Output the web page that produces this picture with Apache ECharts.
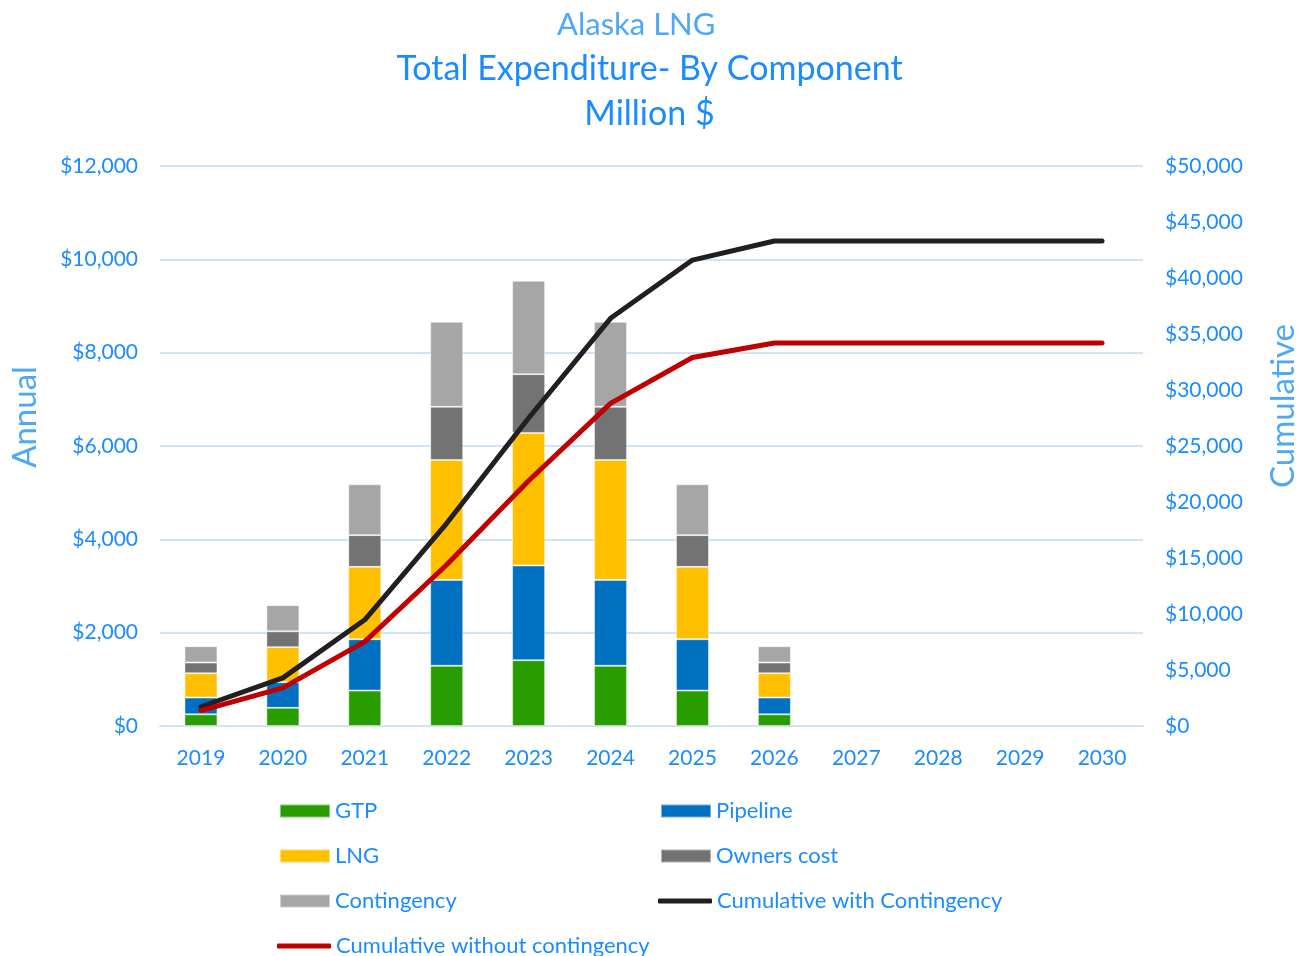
<!DOCTYPE html>
<html>
<head>
<meta charset="utf-8">
<style>
    html, body { margin: 0; padding: 0; background: #fff; }
    #chart { width: 1299px; height: 956px; }
</style>
<script src="https://cdn.jsdelivr.net/npm/echarts@6/dist/echarts.min.js"></script>
</head>
<body>
<div id="chart"></div>
<script>
// 年份
var years = ['2019', '2020', '2021', '2022', '2023', '2024', '2025', '2026', '2027', '2028', '2029', '2030'];
// 各部分年度支出 (百万美元), 2027 年以后没有柱子
var gtp         = [250, 390, 760, 1290, 1410, 1290, 760, 250, null, null, null, null];
var pipeline    = [360, 550, 1100, 1840, 2030, 1840, 1100, 360, null, null, null, null];
var lng         = [520, 750, 1550, 2570, 2840, 2570, 1550, 520, null, null, null, null];
var owners      = [230, 340, 680, 1140, 1260, 1140, 680, 230, null, null, null, null];
var contingency = [350, 560, 1090, 1820, 2000, 1820, 1090, 350, null, null, null, null];
// 累计
var cumWith     = [1720, 4300, 9480, 18100, 27500, 36400, 41600, 43300, 43300, 43300, 43300, 43300];
var cumWithout  = [1380, 3400, 7530, 14400, 21900, 28800, 32900, 34200, 34200, 34200, 34200, 34200];
// 坐标轴刻度
var leftTicks  = [0, 2000, 4000, 6000, 8000, 10000, 12000];
var rightTicks = [0, 5000, 10000, 15000, 20000, 25000, 30000, 35000, 40000, 45000, 50000];

var blue = '#1a8cff';
var lightBlue = '#4ea8f5';
var gridColor = '#cfe4f7';
var font = 'Lato, "Open Sans", sans-serif';

function money(v) {
    return '$' + v.toLocaleString('en-US');
}

function barSeries(name, data, color) {
    return {
        name: name,
        type: 'bar',
        stack: 'annual',
        barWidth: 33,
        data: data,
        itemStyle: { color: color, borderColor: 'rgba(255,255,255,0.45)', borderWidth: 1 }
    };
}

function lineSeries(name, data, color) {
    return {
        name: name,
        type: 'line',
        yAxisIndex: 1,
        data: data,
        symbol: 'none',
        lineStyle: { color: color, width: 5, cap: 'round' },
        itemStyle: { color: color }
    };
}

// 图例 (每项单独定位)
var legendItems = [
    { name: 'GTP', left: 279, top: 800, line: false },
    { name: 'Pipeline', left: 660, top: 800, line: false },
    { name: 'LNG', left: 279, top: 845, line: false },
    { name: 'Owners cost', left: 660, top: 845, line: false },
    { name: 'Contingency', left: 279, top: 890, line: false },
    { name: 'Cumulative with Contingency', left: 658, top: 890, line: true },
    { name: 'Cumulative without contingency', left: 277, top: 935, line: true }
];
var legends = legendItems.map(function (it) {
    return {
        data: [it.name],
        left: it.left,
        top: it.top,
        padding: 0,
        selectedMode: false,
        icon: it.line ? 'roundRect' : 'rect',
        itemWidth: it.line ? 54 : 50,
        itemHeight: it.line ? 5 : 13,
        itemGap: 0,
        textStyle: { color: blue, fontSize: 22, fontFamily: font, padding: [0, 0, 0, 0] }
    };
});

var option = {
    animation: false,
    backgroundColor: '#fff',
    title: [
        { text: 'Alaska LNG', left: 552, top: 4, textStyle: { color: lightBlue, fontSize: 31, fontWeight: 'normal', fontFamily: font } },
        { text: 'Total Expenditure- By Component', left: 'center', top: 47, textStyle: { color: blue, fontSize: 34, fontWeight: 'normal', fontFamily: font } },
        { text: 'Million $', left: 'center', top: 92, textStyle: { color: blue, fontSize: 34, fontWeight: 'normal', fontFamily: font } }
    ],
    legend: legends,
    grid: { left: 160, right: 156, top: 166, bottom: 230 },
    xAxis: {
        type: 'category',
        data: years,
        axisLine: { show: true, lineStyle: { color: gridColor, width: 2 } },
        axisTick: { show: false },
        axisLabel: { color: blue, fontSize: 21, fontFamily: font, margin: 22 }
    },
    yAxis: [
        {
            type: 'value',
            min: 0, max: leftTicks[leftTicks.length - 1], interval: 2000,
            axisLine: { show: false },
            axisTick: { show: false },
            splitLine: { lineStyle: { color: gridColor, width: 2 } },
            axisLabel: { color: blue, fontSize: 21, fontFamily: font, margin: 22, formatter: money }
        },
        {
            type: 'value',
            min: 0, max: rightTicks[rightTicks.length - 1], interval: 5000,
            axisLine: { show: false },
            axisTick: { show: false },
            splitLine: { show: false },
            axisLabel: { color: blue, fontSize: 21, fontFamily: font, margin: 22, formatter: money }
        }
    ],
    graphic: [
        { type: 'text', x: 25, y: 417, rotation: Math.PI / 2,
          style: { text: 'Annual', fill: lightBlue, font: '33px ' + font, textAlign: 'center', textVerticalAlign: 'middle' } },
        { type: 'text', x: 1283, y: 406, rotation: Math.PI / 2,
          style: { text: 'Cumulative', fill: lightBlue, font: '33px ' + font, textAlign: 'center', textVerticalAlign: 'middle' } }
    ],
    series: [
        barSeries('GTP', gtp, '#299c00'),
        barSeries('Pipeline', pipeline, '#0070c0'),
        barSeries('LNG', lng, '#ffc000'),
        barSeries('Owners cost', owners, '#737373'),
        barSeries('Contingency', contingency, '#a6a6a6'),
        lineSeries('Cumulative with Contingency', cumWith, '#231f20'),
        lineSeries('Cumulative without contingency', cumWithout, '#c00000')
    ]
};

var chart = echarts.init(document.getElementById('chart'));
chart.setOption(option);
</script>
</body>
</html>
